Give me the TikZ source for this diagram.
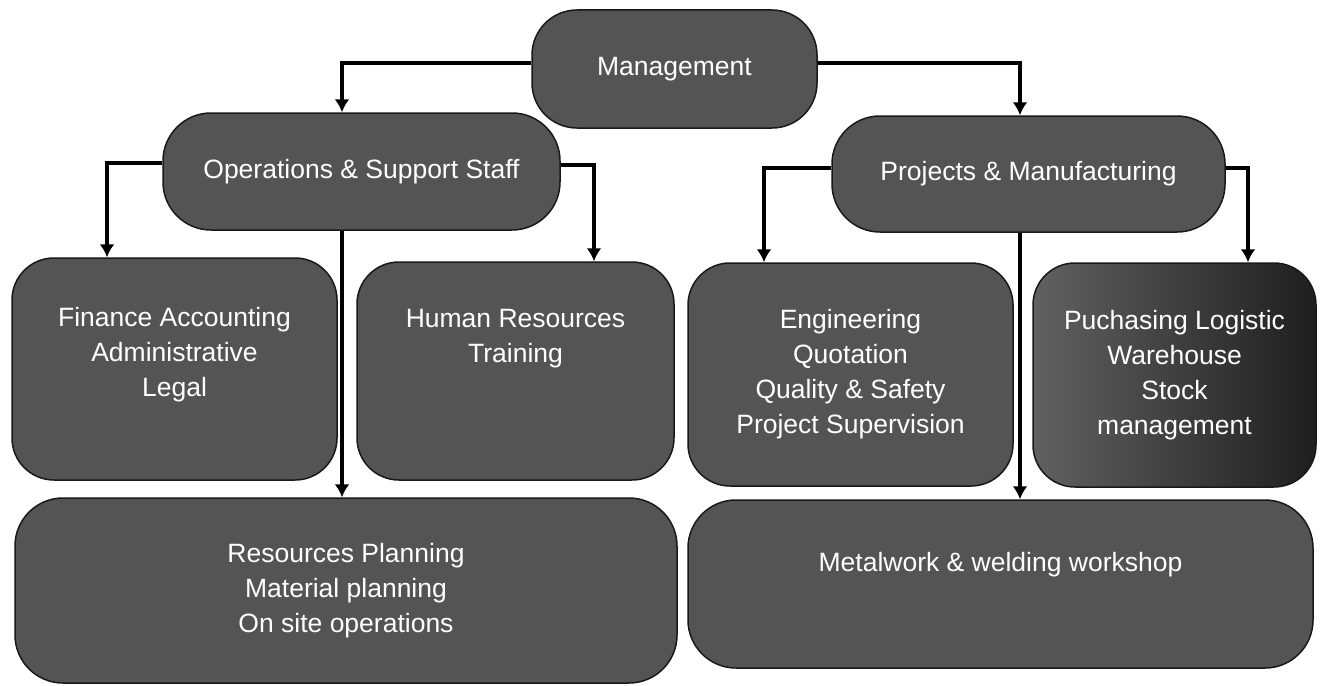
\documentclass[tikz,border=0pt]{standalone}
\usepackage{fontspec}
\setmainfont{Liberation Sans}
\usetikzlibrary{arrows.meta}

\begin{document}
\begin{tikzpicture}[
    x=1pt, y=-1pt, % one unit per pixel, y grows downward
    box/.style={
        draw=black!90, % dark border
        line width=1.5pt,
        fill=black!67, % dark grey fill
        text=white, % white lettering
        align=center, % center text within nodes
        inner sep=0pt,
        font=\fontsize{26.5}{35}\selectfont
    },
    conn/.style={line width=4pt, -{Latex[length=13pt,width=15pt]}}, % elbow arrows
]
\useasboundingbox (0,0) rectangle (1324,685);

% top level
\node[box, minimum width=285pt, minimum height=118pt, rounded corners=45pt] (mgmt) at (674.5,69) {Management};

% second level
\node[box, minimum width=397pt, minimum height=117pt, rounded corners=48pt] (ops) at (361.5,171.5) {Operations \& Support Staff};
\node[box, minimum width=393pt, minimum height=116pt, rounded corners=48pt] (pm) at (1028.5,174) {Projects \& Manufacturing};

% departments
\node[box, minimum width=325pt, minimum height=222pt, rounded corners=42pt] (fin) at (174.5,369) {Finance Accounting\\Administrative\\Legal\\~};
\node[box, minimum width=317pt, minimum height=218pt, rounded corners=42pt] (hr) at (515.5,371) {Human Resources\\Training\\~\\~};
\node[box, minimum width=325pt, minimum height=223pt, rounded corners=42pt] (eng) at (850.5,374.5) {Engineering\\Quotation\\Quality \& Safety\\Project Supervision};
\node[box, minimum width=283pt, minimum height=224pt, rounded corners=42pt, left color=black!62, right color=black!88] (pur) at (1174.5,375) {Puchasing Logistic\\Warehouse\\Stock\\management};
\node[box, minimum width=662pt, minimum height=185pt, rounded corners=48pt] (res) at (346,590.5) {Resources Planning\\Material planning\\On site operations};
\node[box, minimum width=625pt, minimum height=168pt, rounded corners=48pt] (met) at (1000.5,584) {Metalwork \& welding workshop\\[10pt]};

% connectors
\draw[conn] ([yshift=6pt]mgmt.west) -| ([xshift=-19.5pt]ops.north);
\draw[conn] ([yshift=6pt]mgmt.east) -| ([xshift=-8.5pt]pm.north);
\draw[conn] ([yshift=8.5pt]ops.west) -| ([xshift=-67.5pt]fin.north);
\draw[conn] ([yshift=7pt]ops.east) -| ([xshift=78.5pt]hr.north);
\draw[conn] ([xshift=-19.5pt]ops.south) -- ([xshift=-4pt]res.north);
\draw[conn] ([yshift=6pt]pm.west) -| ([xshift=-86.5pt]eng.north);
\draw[conn] ([yshift=6pt]pm.east) -| ([xshift=73.5pt]pur.north);
\draw[conn] ([xshift=-8.5pt]pm.south) -- ([xshift=19.5pt]met.north);
\end{tikzpicture}
\end{document}
